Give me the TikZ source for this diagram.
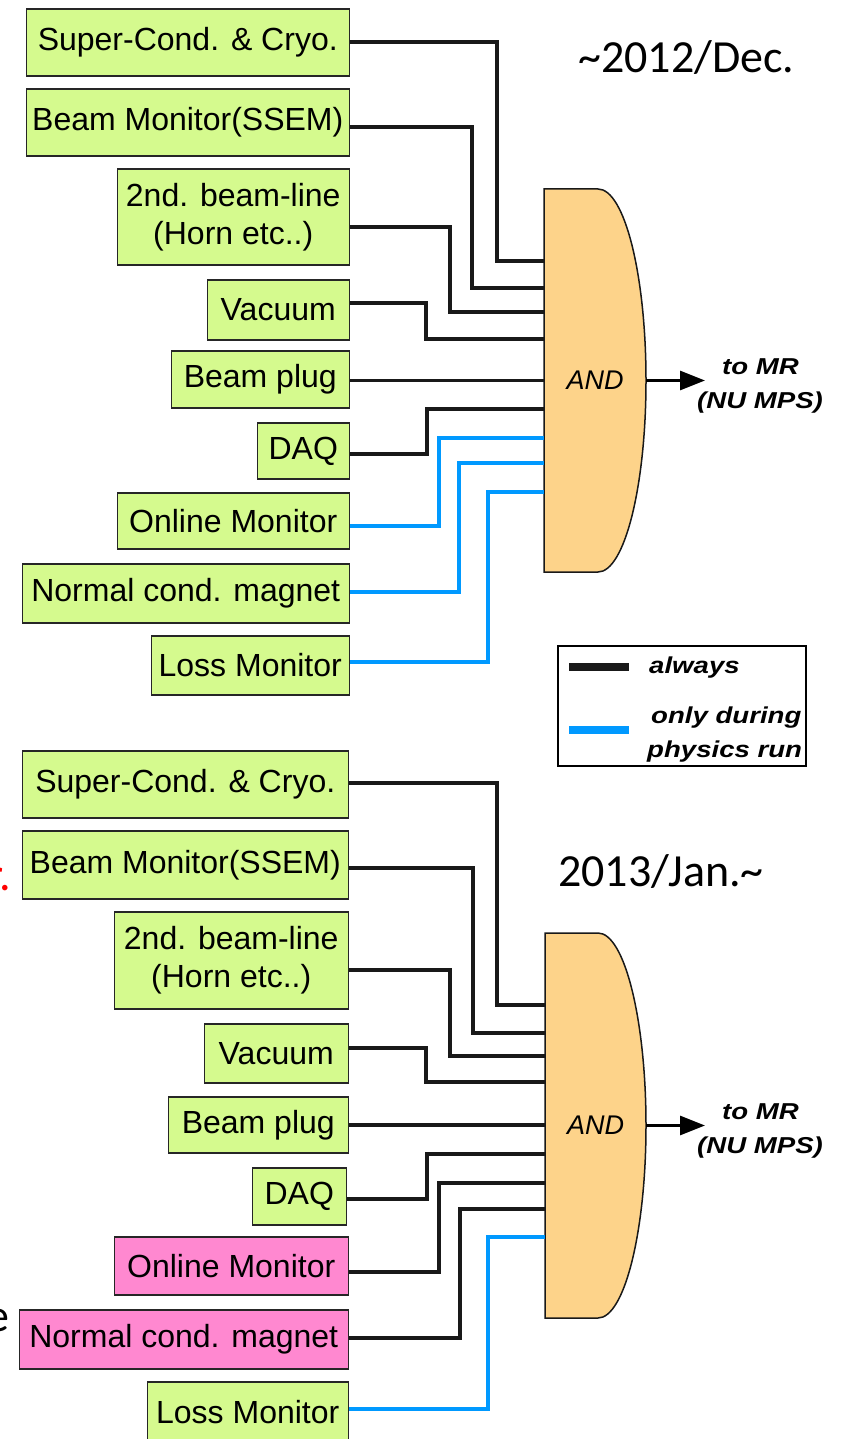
\documentclass[tikz,border=0pt]{standalone}
\usepackage{fontspec}
\usepackage{graphicx}
\setmainfont{Liberation Sans}
\newfontfamily\calibrifont{Carlito}
\usetikzlibrary{arrows.meta}
\definecolor{boxgreen}{RGB}{213,250,142}
\definecolor{boxpink}{RGB}{255,136,208}
\definecolor{gateorange}{RGB}{253,211,138}
\definecolor{linkblue}{RGB}{0,153,255}
\tikzset{
  unit/.style={draw=black!85, line width=1.5pt, fill=boxgreen, inner sep=0pt, align=center,
    font=\fontsize{32}{38}\selectfont, anchor=east},
  pinkunit/.style={unit, fill=boxpink},
  gateshape/.style={draw=black!90, line width=1.5pt, fill=gateorange},
  gatebox/.style={inner sep=0pt, font=\itshape\fontsize{27}{32}\selectfont},
  always/.style={line width=3.5pt, draw=black!90},
  physics/.style={line width=3.5pt, draw=linkblue},
  outarrow/.style={line width=3pt, draw=black, -{Triangle[length=25pt,width=19pt]}},
  lbl/.style={inner sep=0pt, anchor=base west, font=\bfseries\itshape\fontsize{23}{28}\selectfont},
  datelbl/.style={inner sep=0pt, anchor=base west, font=\calibrifont\fontsize{46}{54}\selectfont},
  legbox/.style={draw=black, line width=1.5pt, inner sep=0pt, anchor=north west},
}
\begin{document}
\begin{tikzpicture}[x=1pt, y=-1pt, line join=miter]
\useasboundingbox (0,0) rectangle (843,1439);
\clip (0,0) rectangle (843,1439);

% ---------------- top panel ----------------
\node[unit, minimum width=323pt, minimum height=67pt] (t1) at (350,42.5) {Super-Cond. \& Cryo.};
\node[unit, minimum width=323pt, minimum height=67pt] (t2) at (350,122.5) {Beam Monitor(SSEM)};
\node[unit, minimum width=232pt, minimum height=96pt] (t3) at (350,217) {2nd. beam-line\\(Horn etc..)};
\node[unit, minimum width=142pt, minimum height=60pt] (t4) at (350,310) {Vacuum};
\node[unit, minimum width=178pt, minimum height=57pt] (t5) at (350,379.5) {Beam plug};
\node[unit, minimum width=92pt, minimum height=56pt] (t6) at (350,451) {DAQ};
\node[unit, minimum width=232pt, minimum height=56pt] (t7) at (350,521) {Online Monitor};
\node[unit, minimum width=327pt, minimum height=59pt] (t8) at (350,593.5) {Normal cond. magnet};
\node[unit, minimum width=198pt, minimum height=59pt] (t9) at (350,665.5) {Loss Monitor};

\draw[gateshape] (544,189) -- (598,189) .. controls (624.5,189) and (646,274.7) .. (646,380.5)
  .. controls (646,486.3) and (624.5,572) .. (598,572) -- (544,572) -- cycle;
\node[gatebox, minimum width=102pt, minimum height=383pt] (g1) at (595,380.5) {AND};

\draw[always]  (t1.east |- 0,42)  -- (497,42)  |- (g1.west |- 0,261);
\draw[always]  (t2.east |- 0,127) -- (472,127) |- (g1.west |- 0,288);
\draw[always]  (t3.east |- 0,227) -- (450,227) |- (g1.west |- 0,312);
\draw[always]  (t4.east |- 0,303) -- (426,303) |- (g1.west |- 0,339);
\draw[always]  (t5.east |- 0,380.5) -- (g1.west |- 0,380.5);
\draw[always]  (t6.east |- 0,454) -- (427,454) |- (g1.west |- 0,409);
\draw[physics] (t7.east |- 0,526) -- (439,526) |- (g1.west |- 0,438);
\draw[physics] (t8.east |- 0,592) -- (459,592) |- (g1.west |- 0,463);
\draw[physics] (t9.east |- 0,662) -- (488,662) |- (g1.west |- 0,492);

\coordinate (o1) at (705,380.5);
\draw[outarrow] (g1.east) -- (o1);

\node[datelbl] (d1) at (578,73) {\textasciitilde 2012/Dec.};

% legend
\node[legbox, minimum width=248pt, minimum height=120pt] (leg) at (557,645) {};
\draw[line width=7.5pt, black!90] (569,667) -- (629,667);
\draw[line width=8pt, linkblue] (569,730) -- (629,730);
\node[lbl] (la) at (649,673) {\scalebox{1.2}[1]{always}};
\begin{scope}
\clip (0,0) rectangle (805,1439);
\node[lbl] (lb) at (651,723) {\scalebox{1.2}[1]{only during}};
\node[lbl] (lc) at (647,757) {\scalebox{1.2}[1]{physics run}};
\end{scope}

% ---------------- bottom panel ----------------
\node[unit, minimum width=326pt, minimum height=67pt] (b1) at (349,784.5) {Super-Cond. \& Cryo.};
\node[unit, minimum width=326pt, minimum height=68pt] (b2) at (349,865) {Beam Monitor(SSEM)};
\node[unit, minimum width=234pt, minimum height=97pt] (b3) at (349,960.5) {2nd. beam-line\\(Horn etc..)};
\node[unit, minimum width=144pt, minimum height=59pt] (b4) at (349,1053.5) {Vacuum};
\node[unit, minimum width=180pt, minimum height=56pt] (b5) at (349,1125) {Beam plug};
\node[unit, minimum width=94pt, minimum height=57pt] (b6) at (347,1196.5) {DAQ};
\node[pinkunit, minimum width=234pt, minimum height=58pt] (b7) at (349,1266) {Online Monitor};
\node[pinkunit, minimum width=329pt, minimum height=59pt] (b8) at (349,1339.5) {Normal cond. magnet};
\node[unit, minimum width=201pt, minimum height=60pt] (b9) at (349,1412) {Loss Monitor};

\draw[gateshape] (545,933) -- (598,933) .. controls (624.5,933) and (646,1019.8) .. (646,1125.5)
  .. controls (646,1231.2) and (624.5,1318) .. (598,1318) -- (545,1318) -- cycle;
\node[gatebox, minimum width=101pt, minimum height=385pt] (g2) at (595.5,1125.5) {AND};

\draw[always]  (b1.east |- 0,783)  -- (497,783)  |- (g2.west |- 0,1005);
\draw[always]  (b2.east |- 0,868)  -- (473,868)  |- (g2.west |- 0,1033);
\draw[always]  (b3.east |- 0,970)  -- (450,970)  |- (g2.west |- 0,1056);
\draw[always]  (b4.east |- 0,1048) -- (426,1048) |- (g2.west |- 0,1082);
\draw[always]  (b5.east |- 0,1125) -- (g2.west |- 0,1125);
\draw[always]  (b6.east |- 0,1199) -- (427,1199) |- (g2.west |- 0,1154);
\draw[always]  (b7.east |- 0,1272) -- (439,1272) |- (g2.west |- 0,1183);
\draw[always]  (b8.east |- 0,1338) -- (460,1338) |- (g2.west |- 0,1209);
\draw[physics] (b9.east |- 0,1409) -- (488,1409) |- (g2.west |- 0,1237);

\coordinate (o2) at (705,1125.5);
\draw[outarrow] (g2.east) -- (o2);

\node[datelbl] (d2) at (558,886) {2013/Jan.\textasciitilde};

% output labels (clipped on the right as in the source)
\begin{scope}
\clip (0,0) rectangle (822,1439);
\node[lbl] (m1) at (722,374) {\scalebox{1.2}[1]{to MR}};
\node[lbl] (n1) at (697,408) {\scalebox{1.2}[1]{(NU MPS)}};
\node[lbl] (m2) at (722,1119) {\scalebox{1.2}[1]{to MR}};
\node[lbl] (n2) at (697,1153) {\scalebox{1.2}[1]{(NU MPS)}};
\end{scope}

% text fragments cut by the left edge (as in the source)
\node[datelbl, anchor=base east, text=red] (f1) at (11,890) {r.};
\node[datelbl, anchor=base east] (f2) at (10,1331) {e};
\end{tikzpicture}
\end{document}
